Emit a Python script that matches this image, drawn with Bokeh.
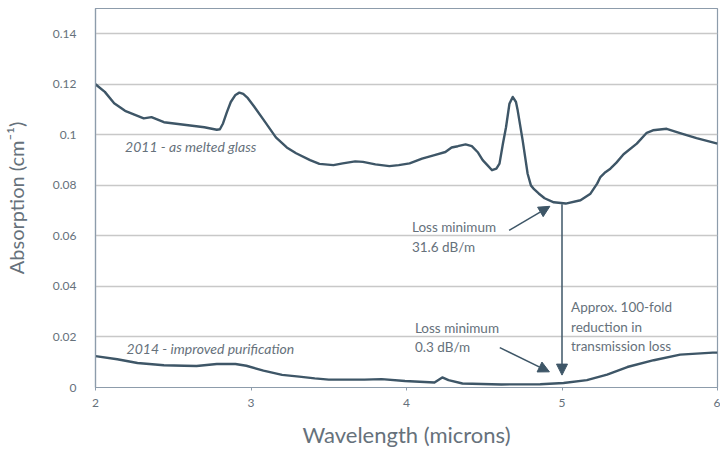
from bokeh.plotting import figure
from bokeh.models import (ColumnDataSource, FixedTicker, CustomJSTickFormatter,
                          Arrow, NormalHead, Label)
from bokeh.embed import file_html
from bokeh.resources import INLINE

# ---------------- data ----------------
wl_2011 = [2.0, 2.06, 2.12, 2.19, 2.25, 2.31, 2.36, 2.44, 2.57, 2.70, 2.78, 2.80, 2.82,
           2.845, 2.87, 2.90, 2.925, 2.95, 2.98, 3.02, 3.08, 3.16, 3.23, 3.29, 3.38,
           3.44, 3.53, 3.59, 3.67, 3.72, 3.80, 3.89, 3.95, 4.02, 4.10, 4.18, 4.25, 4.29,
           4.33, 4.38, 4.42, 4.46, 4.49, 4.52, 4.55, 4.578, 4.598, 4.62, 4.64, 4.662,
           4.683, 4.704, 4.715, 4.747, 4.779, 4.80, 4.82, 4.85, 4.888, 4.947, 5.024,
           5.119, 5.183, 5.226, 5.247, 5.279, 5.311, 5.35, 5.396, 5.481, 5.545, 5.585,
           5.673, 5.759, 5.865, 6.0]
abs_2011 = [0.120, 0.117, 0.1125, 0.1095, 0.108, 0.1065, 0.107, 0.105, 0.104, 0.103,
            0.102, 0.1022, 0.1045, 0.109, 0.113, 0.1158, 0.1167, 0.1162, 0.1145,
            0.1112, 0.106, 0.099, 0.095, 0.0927, 0.090, 0.0885, 0.088, 0.0887, 0.0895,
            0.0893, 0.0883, 0.0876, 0.088, 0.0887, 0.0906, 0.092, 0.0932, 0.095, 0.0955,
            0.0962, 0.0955, 0.093, 0.090, 0.088, 0.086, 0.0866, 0.0886, 0.0965, 0.103,
            0.1123, 0.115, 0.113, 0.1097, 0.0978, 0.0846, 0.080, 0.0785, 0.0768, 0.0749,
            0.0733, 0.0728, 0.0741, 0.0767, 0.0807, 0.0833, 0.0852, 0.0866, 0.089,
            0.0923, 0.0965, 0.1008, 0.1018, 0.1024, 0.1007, 0.0987, 0.0965]

wl_2014 = [2.0, 2.14, 2.27, 2.44, 2.57, 2.65, 2.78, 2.90, 2.97, 3.08, 3.20, 3.31, 3.41,
           3.50, 3.73, 3.84, 3.99, 4.18, 4.23, 4.27, 4.36, 4.61, 4.86, 5.01, 5.16, 5.29,
           5.42, 5.59, 5.76, 5.97, 6.0]
abs_2014 = [0.0124, 0.0112, 0.0097, 0.0088, 0.0086, 0.0085, 0.0093, 0.0093, 0.0086,
            0.0067, 0.005, 0.0043, 0.0036, 0.0031, 0.0031, 0.0033, 0.0026, 0.002, 0.004,
            0.0029, 0.0016, 0.0012, 0.0013, 0.0018, 0.0029, 0.0051, 0.0081, 0.0108,
            0.013, 0.0138, 0.0138]

x_ticks = [2, 3, 4, 5, 6]
y_ticks = [0, 0.02, 0.04, 0.06, 0.08, 0.1, 0.12, 0.14]

# ---------------- style ----------------
FONT = "Lato"
TXT = "#66717b"
LINE = "#3e5667"
GRID = "#c8c8c8"
FRAME = "#8d9cab"

p = figure(width=720, height=452, x_range=(2, 6), y_range=(0, 0.15),
           output_backend="svg", toolbar_location=None,
           min_border_left=91, min_border_right=3, min_border_top=8,
           min_border_bottom=65)
p.background_fill_color = "white"
p.border_fill_color = "white"
p.outline_line_color = FRAME
p.outline_line_width = 1.2

p.xgrid.grid_line_color = None
p.ygrid.grid_line_color = GRID
p.ygrid.grid_line_width = 1.5

p.xaxis.ticker = FixedTicker(ticks=x_ticks)
p.yaxis.ticker = FixedTicker(ticks=y_ticks)
p.yaxis.formatter = CustomJSTickFormatter(code="return String(parseFloat(tick.toFixed(4)));")

for ax in (p.xaxis[0], p.yaxis[0]):
    ax.axis_line_color = FRAME
    ax.axis_line_width = 1.2
    ax.major_label_text_font = FONT
    ax.major_label_text_font_size = "12px"
    ax.major_label_text_color = TXT
    ax.axis_label_text_font = FONT
    ax.axis_label_text_font_style = "normal"
    ax.axis_label_text_color = TXT
    ax.minor_tick_line_color = None

p.xaxis.major_tick_line_color = FRAME
p.xaxis.major_tick_in = 0
p.xaxis.major_tick_out = 3
p.xaxis.major_label_standoff = 8
p.xaxis.axis_label = "Wavelength (microns)"
p.xaxis.axis_label_standoff = 11
p.xaxis.axis_label_text_font_size = "22px"

p.yaxis.major_tick_line_color = None
p.yaxis.major_label_standoff = 13
p.yaxis.axis_label = "Absorption (cm⁻¹)"
p.yaxis.axis_label_standoff = 22
p.yaxis.axis_label_text_font_size = "20px"

src11 = ColumnDataSource(dict(x=wl_2011, y=abs_2011))
src14 = ColumnDataSource(dict(x=wl_2014, y=abs_2014))
p.line("x", "y", source=src11, line_color=LINE, line_width=2.4, line_join="round")
p.line("x", "y", source=src14, line_color=LINE, line_width=2.4, line_join="round")

# ---------------- annotations ----------------
def label(x, y, text, italic=False, size="13.5px"):
    p.add_layout(Label(x=x, y=y, text=text, text_font=FONT, text_font_size=size,
                       text_color=TXT, text_baseline="middle",
                       text_font_style="italic" if italic else "normal"))

label(2.19, 0.0954, "2011 - as melted glass", italic=True, size="14px")
label(2.2, 0.0155, "2014 - improved purification", italic=True, size="14px")
label(4.035, 0.0635, "Loss minimum")
label(4.035, 0.0555, "31.6 dB/m")
label(4.054, 0.0237, "Loss minimum")
label(4.054, 0.0160, "0.3 dB/m")
label(5.058, 0.0317, "Approx. 100-fold")
label(5.058, 0.0240, "reduction in")
label(5.058, 0.0165, "transmission loss")

def arrow(x0, y0, x1, y1):
    p.add_layout(Arrow(x_start=x0, y_start=y0, x_end=x1, y_end=y1,
                       line_color=LINE, line_width=1.5,
                       end=NormalHead(size=11, fill_color=LINE, line_color=LINE)))

arrow(4.66, 0.0622, 4.922, 0.0717)
arrow(5.0, 0.0725, 5.0, 0.0049)
arrow(4.60, 0.0158, 4.919, 0.0062)

open("out.html", "w").write(file_html(p, INLINE))
